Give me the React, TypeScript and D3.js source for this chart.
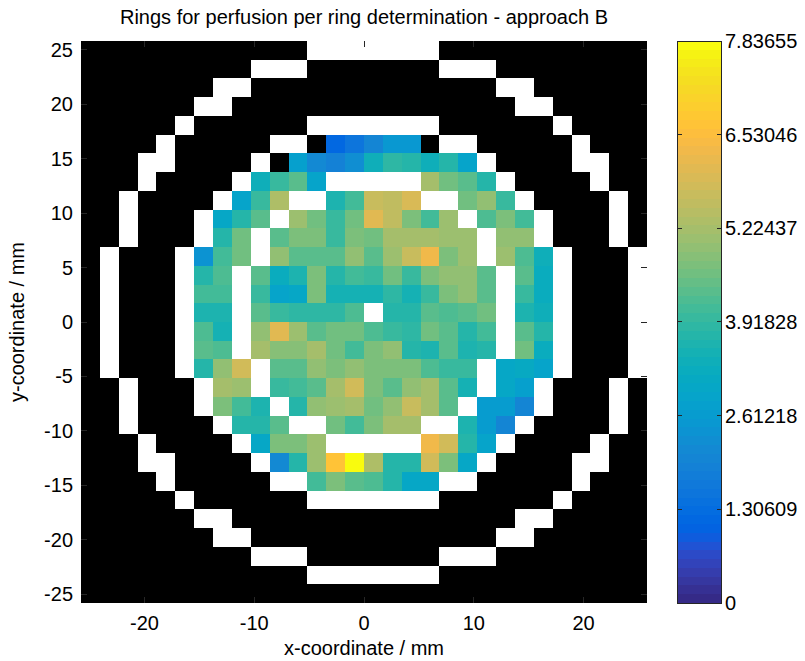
import React from "react";
import * as d3 from "d3";

// Perfusion map: 30 x 30 voxels, 1.71875 mm each, centred on the origin.
const PIXEL_MM = 1.71875;
const N = 30;
const V_MAX = 7.83655;

const xTicks = [-20, -10, 0, 10, 20];
const yTicks = [-25, -20, -15, -10, -5, 0, 5, 10, 15, 20, 25];
const cbTicks = [0, 1.30609, 2.61218, 3.91828, 5.22437, 6.53046, 7.83655];
const cbTickLabels = ["0", "1.30609", "2.61218", "3.91828", "5.22437", "6.53046", "7.83655"];

const TITLE = "Rings for perfusion per ring determination - approach B";
const X_LABEL = "x-coordinate / mm";
const Y_LABEL = "y-coordinate / mm";

// MATLAB parula, 64 entries
const parula: number[][] = [
  [0.2081, 0.1663, 0.5292], [0.2116, 0.1898, 0.5777], [0.2123, 0.2138, 0.627], [0.2081, 0.2386, 0.6771],
  [0.1959, 0.2645, 0.7279], [0.1707, 0.2919, 0.7792], [0.1253, 0.3242, 0.8303], [0.0591, 0.3598, 0.8683],
  [0.0117, 0.3875, 0.882], [0.006, 0.4086, 0.8828], [0.0165, 0.4266, 0.8786], [0.0329, 0.443, 0.872],
  [0.0498, 0.4586, 0.8641], [0.0629, 0.4737, 0.8554], [0.0723, 0.4887, 0.8467], [0.0779, 0.504, 0.8384],
  [0.0793, 0.52, 0.8312], [0.0749, 0.5375, 0.8263], [0.0641, 0.557, 0.824], [0.0488, 0.5772, 0.8228],
  [0.0343, 0.5966, 0.8199], [0.0265, 0.6137, 0.8135], [0.0239, 0.6287, 0.8038], [0.0231, 0.6418, 0.7913],
  [0.0228, 0.6535, 0.7768], [0.0267, 0.6642, 0.7607], [0.0384, 0.6743, 0.7436], [0.059, 0.6838, 0.7254],
  [0.0843, 0.6928, 0.7062], [0.1133, 0.7015, 0.6859], [0.1453, 0.7098, 0.6646], [0.1801, 0.7177, 0.6424],
  [0.2178, 0.725, 0.6193], [0.2586, 0.7317, 0.5954], [0.3022, 0.7376, 0.5712], [0.3482, 0.7424, 0.5473],
  [0.3953, 0.7459, 0.5244], [0.442, 0.7481, 0.5033], [0.4871, 0.7491, 0.484], [0.53, 0.7491, 0.4661],
  [0.5709, 0.7485, 0.4494], [0.6099, 0.7473, 0.4337], [0.6473, 0.7456, 0.4188], [0.6834, 0.7435, 0.4044],
  [0.7184, 0.7411, 0.3905], [0.7525, 0.7384, 0.3768], [0.7858, 0.7356, 0.3633], [0.8185, 0.7327, 0.3498],
  [0.8507, 0.7299, 0.336], [0.8824, 0.7274, 0.3217], [0.9139, 0.7258, 0.3063], [0.945, 0.7261, 0.2886],
  [0.9739, 0.7314, 0.2666], [0.9938, 0.7455, 0.2403], [0.999, 0.7653, 0.2164], [0.9955, 0.7861, 0.1967],
  [0.988, 0.8066, 0.1794], [0.9789, 0.8271, 0.1633], [0.9697, 0.8481, 0.1475], [0.9626, 0.8705, 0.1309],
  [0.9589, 0.8949, 0.1132], [0.9598, 0.9218, 0.0948], [0.9661, 0.9514, 0.0755], [0.9763, 0.9831, 0.0538],
];
const parulaHex = parula.map(([r, g, b]) => d3.rgb(r * 255, g * 255, b * 255).formatHex());

// Voxel rows from top (y = +25.8 mm) to bottom; columns from left (x = -25.8 mm).
// _ = outside the measured area, W = ring boundary voxel, numbers = perfusion.
const _ = null;
const W = "W";
type Cell = number | null | "W";

const row00: Cell[] = [_,_,_,_,_,_,_,_,_,_,_,_,W,W,W,W,W,W,W,_,_,_,_,_,_,_,_,_,_,_];
const row01: Cell[] = [_,_,_,_,_,_,_,_,_,W,W,W,_,_,_,_,_,_,_,W,W,W,_,_,_,_,_,_,_,_];
const row02: Cell[] = [_,_,_,_,_,_,_,W,W,_,_,_,_,_,_,_,_,_,_,_,_,_,W,W,_,_,_,_,_,_];
const row03: Cell[] = [_,_,_,_,_,_,W,W,_,_,_,_,_,_,_,_,_,_,_,_,_,_,_,W,W,_,_,_,_,_];
const row04: Cell[] = [_,_,_,_,_,W,_,_,_,_,_,_,W,W,W,W,W,W,W,_,_,_,_,_,_,W,_,_,_,_];
const row05: Cell[] = [_,_,_,_,W,_,_,_,_,_,W,W,_,1.2,1.5,2.0,2.5,2.55,_,W,W,_,_,_,_,_,W,_,_,_];
const row06: Cell[] = [_,_,_,W,W,_,_,_,_,W,_,2.75,2.1,1.85,2.3,3.37,3.85,3.75,3.4,3.7,2.9,W,_,_,_,_,W,W,_,_];
const row07: Cell[] = [_,_,_,W,_,_,_,_,W,3.4,4.0,4.3,2.9,W,W,W,W,W,5.2,4.6,4.3,3.75,W,_,_,_,_,W,_,_];
const row08: Cell[] = [_,_,W,_,_,_,_,W,2.9,4.0,5.35,W,W,3.6,4.1,5.65,5.55,5.9,W,W,4.6,5.0,4.0,W,_,_,_,_,W,_];
const row09: Cell[] = [_,_,W,_,_,_,W,3.0,3.75,4.3,W,5.1,4.6,4.0,4.65,6.0,5.55,4.7,4.1,5.1,W,4.2,4.7,4.1,W,_,_,_,W,_];
const row10: Cell[] = [_,_,W,_,_,_,W,3.7,4.6,W,4.35,4.7,4.7,4.0,4.7,4.6,5.25,5.25,5.15,5.1,5.1,W,5.0,5.0,W,_,_,_,W,_];
const row11: Cell[] = [_,W,_,_,_,W,2.4,4.1,4.6,W,5.0,4.4,4.35,4.35,4.95,4.35,5.1,5.75,6.25,4.75,5.1,W,5.1,4.2,3.4,W,_,_,_,W];
const row12: Cell[] = [_,W,_,_,_,W,3.7,4.2,W,4.3,3.25,3.6,4.7,3.75,4.1,4.0,4.6,3.95,4.7,4.9,4.9,4.35,W,4.35,3.2,W,_,_,_,W];
const row13: Cell[] = [_,W,_,_,_,W,4.1,4.1,W,3.95,2.9,3.0,4.75,3.5,3.5,3.45,3.9,3.5,4.0,4.75,4.9,4.35,W,4.0,3.25,W,_,_,_,W];
const row14: Cell[] = [_,W,_,_,_,W,3.6,3.65,W,4.35,4.0,3.9,3.9,3.9,4.2,W,3.7,3.75,4.4,4.2,4.4,4.55,W,3.6,3.35,W,_,_,_,W];
const row15: Cell[] = [_,W,_,_,_,W,4.2,3.5,W,5.0,6.0,5.1,4.35,4.55,4.55,4.25,4.0,3.9,4.55,4.35,3.75,4.1,W,4.35,3.7,W,_,_,_,W];
const row16: Cell[] = [_,W,_,_,_,W,4.4,4.2,W,5.2,4.8,4.8,5.2,4.55,4.1,4.7,5.0,3.75,3.6,4.35,3.6,3.7,W,4.55,3.25,W,_,_,_,W];
const row17: Cell[] = [_,W,_,_,_,W,3.7,5.0,5.85,W,4.4,4.4,5.0,4.7,4.9,4.7,4.7,4.7,4.2,4.0,4.0,W,3.0,3.1,2.9,W,_,_,_,W];
const row18: Cell[] = [_,_,W,_,_,_,W,5.2,5.1,W,4.0,4.1,4.4,5.2,5.85,4.7,4.35,4.9,5.2,4.35,3.45,W,2.95,2.7,W,_,_,_,W,_];
const row19: Cell[] = [_,_,W,_,_,_,W,4.7,4.1,3.6,W,3.75,5.0,5.1,5.15,4.6,5.0,5.7,5.2,4.35,W,2.6,2.6,2.05,W,_,_,_,W,_];
const row20: Cell[] = [_,_,W,_,_,_,_,W,3.75,3.7,4.4,W,W,4.55,4.1,4.75,5.2,5.2,W,W,3.6,2.6,2.05,W,_,_,_,_,W,_];
const row21: Cell[] = [_,_,_,W,_,_,_,_,W,3.0,4.7,4.7,5.1,W,W,W,W,W,6.25,5.85,3.7,2.85,W,_,_,_,_,W,_,_];
const row22: Cell[] = [_,_,_,W,W,_,_,_,_,W,2.1,3.75,5.1,6.65,7.8,5.3,3.7,3.7,5.85,4.7,3.0,W,_,_,_,_,W,W,_,_];
const row23: Cell[] = [_,_,_,_,W,_,_,_,_,_,W,W,4.1,4.7,4.35,4.2,3.75,3.0,3.0,W,W,_,_,_,_,_,W,_,_,_];
const row24: Cell[] = [_,_,_,_,_,W,_,_,_,_,_,_,W,W,W,W,W,W,W,_,_,_,_,_,_,W,_,_,_,_];
const row25: Cell[] = [_,_,_,_,_,_,W,W,_,_,_,_,_,_,_,_,_,_,_,_,_,_,_,W,W,_,_,_,_,_];
const row26: Cell[] = [_,_,_,_,_,_,_,W,W,_,_,_,_,_,_,_,_,_,_,_,_,_,W,W,_,_,_,_,_,_];
const row27: Cell[] = [_,_,_,_,_,_,_,_,_,W,W,W,_,_,_,_,_,_,_,W,W,W,_,_,_,_,_,_,_,_];
const row28: Cell[] = [_,_,_,_,_,_,_,_,_,_,_,_,W,W,W,W,W,W,W,_,_,_,_,_,_,_,_,_,_,_];
const row29: Cell[] = [_,_,_,_,_,_,_,_,_,_,_,_,_,_,_,_,_,_,_,_,_,_,_,_,_,_,_,_,_,_];

const grid: Cell[][] = [
  row00, row01, row02, row03, row04, row05, row06, row07, row08, row09,
  row10, row11, row12, row13, row14, row15, row16, row17, row18, row19,
  row20, row21, row22, row23, row24, row25, row26, row27, row28, row29,
];

const FONT = "'Liberation Sans', Arial, Helvetica, sans-serif";
const FS = 20;
const AXIS = "#262626";

export default function App() {
  const W0 = 805;
  const H0 = 661;
  const plot = { left: 81, top: 41, right: 647, bottom: 603 };
  const half = (N * PIXEL_MM) / 2;

  const x = d3.scaleLinear().domain([-half, half]).range([plot.left, plot.right]);
  const y = d3.scaleLinear().domain([-half, half]).range([plot.bottom, plot.top]);
  const color = d3.scaleQuantize<string>().domain([0, V_MAX]).range(parulaHex);

  const cb = { left: 677, right: 721, top: 41, bottom: 603 };
  const cbY = d3.scaleLinear().domain([0, V_MAX]).range([cb.bottom, cb.top]);
  const levels = d3.range(parulaHex.length);
  const step = V_MAX / parulaHex.length;

  const tickLen = 5.7;
  const cbTickLen = 4.5;

  const cells: React.ReactNode[] = [];
  grid.forEach((row, r) => {
    row.forEach((v, c) => {
      const x0 = x(-half + c * PIXEL_MM);
      const x1 = x(-half + (c + 1) * PIXEL_MM);
      const y0 = y(half - r * PIXEL_MM);
      const y1 = y(half - (r + 1) * PIXEL_MM);
      const fill = v === null ? "#000000" : v === "W" ? "#ffffff" : color(v as number);
      cells.push(
        <rect key={`${r}-${c}`} x={x0} y={y0} width={x1 - x0} height={y1 - y0} fill={fill} />
      );
    });
  });

  return (
    <svg width={W0} height={H0} viewBox={`0 0 ${W0} ${H0}`} style={{ display: "block", position: "absolute", left: 0, top: 0, background: "#fff" }}>
      <rect x={0} y={0} width={W0} height={H0} fill="#ffffff" />
      <g shapeRendering="crispEdges">{cells}</g>

      {/* axes box and inward ticks */}
      <g stroke={AXIS} strokeWidth={1} fill="none" shapeRendering="crispEdges">
        {xTicks.map((t) => (
          <g key={`xt${t}`}>
            <line x1={x(t)} x2={x(t)} y1={plot.bottom} y2={plot.bottom - tickLen} />
            <line x1={x(t)} x2={x(t)} y1={plot.top} y2={plot.top + tickLen} />
          </g>
        ))}
        {yTicks.map((t) => (
          <g key={`yt${t}`}>
            <line x1={plot.left} x2={plot.left + tickLen} y1={y(t)} y2={y(t)} />
            <line x1={plot.right} x2={plot.right - tickLen} y1={y(t)} y2={y(t)} />
          </g>
        ))}
      </g>

      <g fontFamily={FONT} fontSize={FS} fill="#000">
        {xTicks.map((t) => (
          <text key={`xl${t}`} x={x(t)} y={630} textAnchor="middle">{t}</text>
        ))}
        {yTicks.map((t) => (
          <text key={`yl${t}`} x={plot.left - 8} y={y(t) + 7} textAnchor="end">{t}</text>
        ))}
        <text x={(plot.left + plot.right) / 2} y={655} textAnchor="middle">{X_LABEL}</text>
        <text transform={`translate(24, ${(plot.top + plot.bottom) / 2}) rotate(-90)`} textAnchor="middle">{Y_LABEL}</text>
        <text x={(plot.left + plot.right) / 2} y={24} textAnchor="middle">{TITLE}</text>
      </g>

      {/* colour bar */}
      <g shapeRendering="crispEdges">
        {levels.map((i) => (
          <rect key={`cb${i}`} x={cb.left} y={cbY((i + 1) * step)} width={cb.right - cb.left}
            height={cbY(i * step) - cbY((i + 1) * step)} fill={parulaHex[i]} />
        ))}
        <rect x={cb.left} y={cb.top} width={cb.right - cb.left} height={cb.bottom - cb.top} fill="none" stroke={AXIS} strokeWidth={1} />
        {cbTicks.map((t) => (
          <g key={`cbt${t}`} stroke={AXIS} strokeWidth={1}>
            <line x1={cb.left} x2={cb.left + cbTickLen} y1={cbY(t)} y2={cbY(t)} />
            <line x1={cb.right} x2={cb.right - cbTickLen} y1={cbY(t)} y2={cbY(t)} />
          </g>
        ))}
      </g>
      <g fontFamily={FONT} fontSize={FS} fill="#000">
        {cbTicks.map((t, i) => (
          <text key={`cbl${t}`} x={cb.right + 4} y={cbY(t) + 7}>{cbTickLabels[i]}</text>
        ))}
      </g>
    </svg>
  );
}
